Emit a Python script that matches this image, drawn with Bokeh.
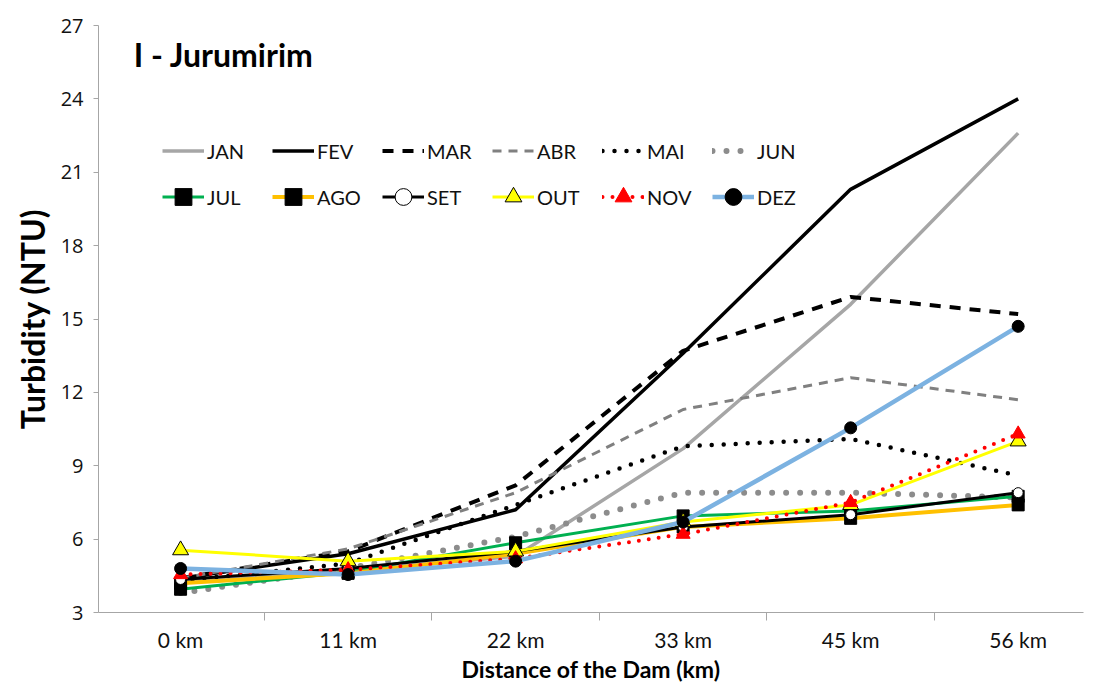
from bokeh.plotting import figure
from bokeh.models import Range1d, FixedTicker, Legend, LegendItem, Label
from bokeh.embed import file_html
from bokeh.resources import INLINE

cats = ["0 km", "11 km", "22 km", "33 km", "45 km", "56 km"]
JAN = [4.3, 4.7, 5.3, 9.7, 15.6, 22.6]
FEV = [4.4, 5.4, 7.2, 13.6, 20.3, 24.0]
MAR = [4.4, 5.5, 8.2, 13.7, 15.9, 15.2]
ABR = [4.4, 5.6, 7.9, 11.3, 12.6, 11.7]
MAI = [4.3, 5.0, 7.4, 9.8, 10.1, 8.6]
JUN = [3.8, 4.8, 6.1, 7.9, 7.9, 7.7]
JUL = [3.95, 4.65, 5.85, 6.95, 7.15, 7.75]
AGO = [4.2, 4.6, 5.4, 6.5, 6.85, 7.4]
SET = [4.35, 4.8, 5.5, 6.5, 7.0, 7.9]
OUT = [5.55, 5.1, 5.5, 6.7, 7.4, 10.0]
NOV = [4.55, 4.75, 5.2, 6.2, 7.5, 10.3]
DEZ = [4.8, 4.55, 5.1, 6.7, 10.55, 14.7]
y_ticks = [3, 6, 9, 12, 15, 18, 21, 24, 27]

xs = list(range(len(cats)))

p = figure(width=1085, height=685, output_backend="svg", toolbar_location=None,
           x_range=Range1d(-0.49, 5.39), y_range=Range1d(3, 27),
           min_border_left=98, min_border_right=2, min_border_top=25, min_border_bottom=71)
p.outline_line_color = None
p.xgrid.visible = False
p.ygrid.visible = False
p.background_fill_color = "white"

FONT = "Lato"

# x axis
p.xaxis.ticker = FixedTicker(ticks=xs, minor_ticks=[0.5, 1.5, 2.5, 3.5, 4.5])
p.xaxis.major_label_overrides = {i: c for i, c in enumerate(cats)}
p.xaxis.major_tick_line_color = None
p.xaxis.major_tick_out = 0
p.xaxis.major_tick_in = 0
p.xaxis.minor_tick_out = 8
p.xaxis.minor_tick_in = 0
p.xaxis.minor_tick_line_color = "#A6A6A6"
p.xaxis.axis_line_color = "#A6A6A6"
p.xaxis.major_label_text_font = FONT
p.xaxis.major_label_text_font_size = "21px"
p.xaxis.major_label_text_color = "#111111"
p.xaxis.major_label_standoff = 6
p.xaxis.axis_label = "Distance of the Dam (km)"
p.xaxis.axis_label_text_font = FONT
p.xaxis.axis_label_text_font_style = "bold"
p.xaxis.axis_label_text_font_size = "23px"
p.xaxis.axis_label_text_color = "black"
p.xaxis.axis_label_standoff = 0

# y axis
p.yaxis.ticker = FixedTicker(ticks=y_ticks, minor_ticks=[])
p.yaxis.major_tick_out = 5
p.yaxis.major_tick_in = 0
p.yaxis.major_tick_line_color = "#A6A6A6"
p.yaxis.axis_line_color = "#A6A6A6"
p.yaxis.major_label_text_font = "Open Sans"
p.yaxis.major_label_text_font_size = "20px"
p.yaxis.major_label_text_color = "#111111"
p.yaxis.major_label_standoff = 10
p.yaxis.axis_label = "Turbidity (NTU)"
p.yaxis.axis_label_text_font = FONT
p.yaxis.axis_label_text_font_style = "bold"
p.yaxis.axis_label_text_font_size = "32px"
p.yaxis.axis_label_text_color = "black"
p.yaxis.axis_label_standoff = 6

items = {}

def series(name, ys, color, width, dash="solid", cap="butt", marker=None,
           msize=12, mfill=None, mline=None):
    rs = []
    r = p.line(xs, ys, line_color=color, line_width=width, line_dash=dash,
               line_cap=cap, line_join="round")
    rs.append(r)
    if marker is not None:
        s = p.scatter(xs, ys, marker=marker, size=msize,
                      fill_color=mfill, line_color=mline, line_width=1)
        rs.append(s)
    items[name] = LegendItem(label=name, renderers=rs)

series("JAN", JAN, "#A6A6A6", 3.5)
series("FEV", FEV, "black", 3.5)
series("MAR", MAR, "black", 4, dash="11 9")
series("ABR", ABR, "#808080", 3, dash="9 7")
series("MAI", MAI, "black", 4.5, dash="0 12", cap="round")
series("JUN", JUN, "#8C8C8C", 6, dash="0 14", cap="round")
series("JUL", JUL, "#00B050", 3, marker="square", msize=12, mfill="black", mline="black")
series("AGO", AGO, "#FFC000", 4, marker="square", msize=12, mfill="black", mline="black")
series("SET", SET, "black", 3, marker="circle", msize=10, mfill="white", mline="black")
series("OUT", OUT, "#FFFF00", 3, marker="triangle", msize=16, mfill="#FFFF00", mline="black")
series("NOV", NOV, "#FF0000", 4, dash="0 10", cap="round", marker="triangle",
       msize=14, mfill="#FF0000", mline="#FF0000")
series("DEZ", DEZ, "#7CB2E1", 4.5, marker="circle", msize=12, mfill="black", mline="black")

# legend grid fills column by column: interleave the two rows
order = ["JAN", "JUL", "FEV", "AGO", "MAR", "SET", "ABR", "OUT", "MAI", "NOV", "JUN", "DEZ"]
legend = Legend(items=[items[k] for k in order], ncols=6, location=(64, 394),
                glyph_width=42, glyph_height=43, label_height=43, label_width=62,
                spacing=3, label_standoff=3, padding=0, margin=0,
                border_line_color=None, background_fill_alpha=0,
                label_text_font=FONT, label_text_font_size="20px",
                label_text_color="#111111")
p.add_layout(legend, "center")

title = Label(x=-0.28, y=25.8, text="I - Jurumirim", text_font=FONT,
              text_font_size="32px", text_font_style="bold",
              text_baseline="middle", text_align="left", text_color="black")
p.add_layout(title)

open("out.html", "w").write(file_html(p, INLINE))
